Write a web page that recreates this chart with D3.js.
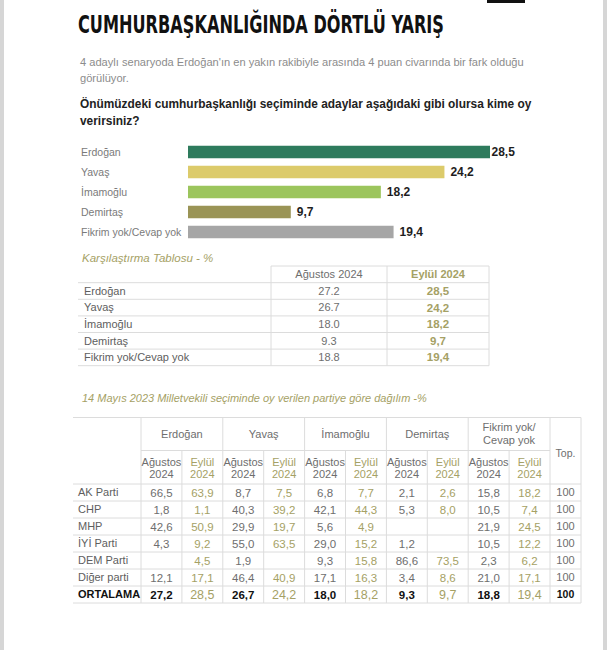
<!DOCTYPE html>
<html lang="tr">
<head>
  <meta charset="UTF-8">
  <title>Cumhurbaşkanlığında Dörtlü Yarış</title>
  <script src="https://d3js.org/d3.v7.min.js"></script>
  <style>
    body { margin: 0; background: #fff; }
    svg { display: block; font-family: "Liberation Sans", Arial, sans-serif; }
  </style>
</head>
<body>
  <div id="chart"></div>

  <script>
    // bar chart / comparison table
    const candidates = ["Erdoğan", "Yavaş", "İmamoğlu", "Demirtaş", "Fikrim yok/Cevap yok"];
    const eylul = [28.5, 24.2, 18.2, 9.7, 19.4];
    const agustos = [27.2, 26.7, 18.0, 9.3, 18.8];
    const periods = ["Ağustos 2024", "Eylül 2024"];

    // party breakdown table
    const parties = ["AK Parti", "CHP", "MHP", "İYİ Parti", "DEM Parti", "Diğer parti", "ORTALAMA"];
    const groups = ["Erdoğan", "Yavaş", "İmamoğlu", "Demirtaş", "Fikrim yok/Cevap yok"];
    const erdoganAug = [66.5, 1.8, 42.6, 4.3, null, 12.1, 27.2];
    const erdoganSep = [63.9, 1.1, 50.9, 9.2, 4.5, 17.1, 28.5];
    const yavasAug = [8.7, 40.3, 29.9, 55.0, 1.9, 46.4, 26.7];
    const yavasSep = [7.5, 39.2, 19.7, 63.5, null, 40.9, 24.2];
    const imamogluAug = [6.8, 42.1, 5.6, 29.0, 9.3, 17.1, 18.0];
    const imamogluSep = [7.7, 44.3, 4.9, 15.2, 15.8, 16.3, 18.2];
    const demirtasAug = [2.1, 5.3, null, 1.2, 86.6, 3.4, 9.3];
    const demirtasSep = [2.6, 8.0, null, null, 73.5, 8.6, 9.7];
    const fikrimAug = [15.8, 10.5, 21.9, 10.5, 2.3, 21.0, 18.8];
    const fikrimSep = [18.2, 7.4, 24.5, 12.2, 6.2, 17.1, 19.4];
    const toplam = [100, 100, 100, 100, 100, 100, 100];

    const barColors = ["#2e7b5d", "#dccb6b", "#9cc55d", "#9a9456", "#a6a6a6"];
    const olive = "#a5a165";
    const grey = "#6e6e6e";
    const lineColor = "#dcdcdc";

    const width = 607, height = 650;
    const fmtComma = v => d3.format(".1f")(v).replace(".", ",");

    const svg = d3.select("#chart").append("svg")
      .attr("width", width)
      .attr("height", height);

    svg.append("rect").attr("width", width).attr("height", height).attr("fill", "#fff");
    // page edges
    svg.append("rect").attr("x", 0).attr("width", 4).attr("height", height).attr("fill", "#d6d6d6");
    svg.append("rect").attr("x", 603).attr("width", 4).attr("height", height).attr("fill", "#d6d6d6");
    svg.append("rect").attr("x", 487).attr("width", 38).attr("height", 3).attr("fill", "#111");

    // heading
    svg.append("text")
      .attr("x", 78).attr("y", 33)
      .attr("textLength", 366)
      .attr("lengthAdjust", "spacingAndGlyphs")
      .style("font-family", "'Liberation Sans Narrow', 'DejaVu Sans Condensed', sans-serif")
      .style("font-weight", "bold")
      .style("font-size", "25px")
      .attr("fill", "#111")
      .text("CUMHURBAŞKANLIĞINDA DÖRTLÜ YARIŞ");

    const sub = ["4 adaylı senaryoda Erdoğan'ın en yakın rakibiyle arasında 4 puan civarında bir fark olduğu", "görülüyor."];
    svg.append("g").selectAll("text").data(sub).join("text")
      .attr("x", 80).attr("y", (d, i) => 66 + i * 15.5)
      .style("font-size", "11.1px")
      .attr("fill", "#8c8c8c")
      .text(d => d);

    const question = ["Önümüzdeki cumhurbaşkanlığı seçiminde adaylar aşağıdaki gibi olursa kime oy", "verirsiniz?"];
    svg.append("g").selectAll("text").data(question).join("text")
      .attr("x", 80).attr("y", (d, i) => 108 + i * 16.5)
      .style("font-size", "11.9px")
      .style("font-weight", "bold")
      .attr("fill", "#222")
      .text(d => d);

    // horizontal bar chart
    const x = d3.scaleLinear().domain([0, 28.5]).range([188, 490]);
    const y = d3.scaleBand().domain(candidates).range([142, 242])
      .paddingInner(0.375).paddingOuter(0.1875);

    const bars = svg.append("g");
    bars.selectAll("rect").data(candidates).join("rect")
      .attr("x", x(0))
      .attr("y", d => y(d))
      .attr("width", (d, i) => x(eylul[i]) - x(0))
      .attr("height", y.bandwidth())
      .attr("fill", (d, i) => barColors[i]);

    bars.selectAll(".lbl").data(candidates).join("text")
      .attr("class", "lbl")
      .attr("x", 81)
      .attr("y", d => y(d) + y.bandwidth() / 2)
      .attr("dy", "0.35em")
      .style("font-size", "10.5px")
      .attr("fill", "#7a7a7a")
      .text(d => d);

    bars.selectAll(".val").data(candidates).join("text")
      .attr("class", "val")
      .attr("x", (d, i) => x(eylul[i]) + (i === 0 ? 1.5 : 6))
      .attr("y", d => y(d) + y.bandwidth() / 2)
      .attr("dy", "0.36em")
      .style("font-size", "12px")
      .style("font-weight", "bold")
      .attr("fill", "#1e1e1e")
      .text((d, i) => fmtComma(eylul[i]));

    // comparison table
    svg.append("text")
      .attr("x", 82).attr("y", 262)
      .style("font-size", "11.5px")
      .style("font-style", "italic")
      .attr("fill", olive)
      .text("Karşılaştırma Tablosu - %");

    const ct = svg.append("g");
    const cx = d3.scaleOrdinal().domain(["label"].concat(periods)).range([78, 271, 387]);
    const colEnd = 489;
    const cy = d3.scaleBand().domain(candidates).range([282.7, 365.7]);
    const cHeadTop = 266;

    ct.append("line").attr("x1", cx(periods[0])).attr("x2", colEnd)
      .attr("y1", cHeadTop).attr("y2", cHeadTop).attr("stroke", lineColor);
    ct.selectAll(".hl").data(candidates).join("line")
      .attr("class", "hl")
      .attr("x1", cx("label")).attr("x2", colEnd)
      .attr("y1", d => cy(d)).attr("y2", d => cy(d))
      .attr("stroke", lineColor);
    ct.append("line").attr("x1", cx("label")).attr("x2", colEnd)
      .attr("y1", cy.range()[1]).attr("y2", cy.range()[1]).attr("stroke", lineColor);
    ct.selectAll(".vl").data(periods.concat(["end"])).join("line")
      .attr("class", "vl")
      .attr("x1", d => d === "end" ? colEnd : cx(d))
      .attr("x2", d => d === "end" ? colEnd : cx(d))
      .attr("y1", cHeadTop).attr("y2", cy.range()[1])
      .attr("stroke", lineColor);

    const colMid = [(cx(periods[0]) + cx(periods[1])) / 2, (cx(periods[1]) + colEnd) / 2];
    ct.selectAll(".ph").data(periods).join("text")
      .attr("class", "ph")
      .attr("x", (d, i) => colMid[i])
      .attr("y", (cHeadTop + cy.range()[0]) / 2)
      .attr("dy", "0.35em")
      .attr("text-anchor", "middle")
      .style("font-size", "11px")
      .style("font-weight", (d, i) => i ? "bold" : "normal")
      .attr("fill", (d, i) => i ? olive : grey)
      .text(d => d);

    const crow = ct.selectAll(".cr").data(candidates).join("g")
      .attr("class", "cr")
      .attr("transform", d => `translate(0,${cy(d) + cy.bandwidth() / 2})`);
    crow.append("text")
      .attr("x", cx("label") + 6).attr("dy", "0.35em")
      .style("font-size", "11px").attr("fill", "#5e5e5e")
      .text(d => d);
    crow.append("text")
      .attr("x", colMid[0]).attr("dy", "0.35em").attr("text-anchor", "middle")
      .style("font-size", "11px").attr("fill", grey)
      .text((d, i) => d3.format(".1f")(agustos[i]));
    crow.append("text")
      .attr("x", colMid[1]).attr("dy", "0.35em").attr("text-anchor", "middle")
      .style("font-size", "11.5px").style("font-weight", "bold").attr("fill", olive)
      .text((d, i) => fmtComma(eylul[i]));

    // party breakdown table
    svg.append("text")
      .attr("x", 82).attr("y", 402)
      .style("font-size", "11px")
      .style("font-style", "italic")
      .attr("fill", olive)
      .text("14 Mayıs 2023 Milletvekili seçiminde oy verilen partiye göre dağılım -%");

    const columns = [
      { g: 0, p: 0, v: erdoganAug }, { g: 0, p: 1, v: erdoganSep },
      { g: 1, p: 0, v: yavasAug }, { g: 1, p: 1, v: yavasSep },
      { g: 2, p: 0, v: imamogluAug }, { g: 2, p: 1, v: imamogluSep },
      { g: 3, p: 0, v: demirtasAug }, { g: 3, p: 1, v: demirtasSep },
      { g: 4, p: 0, v: fikrimAug }, { g: 4, p: 1, v: fikrimSep }
    ];
    columns.forEach((c, i) => c.key = i);

    const tLeft = 73, tRight = 581, topX = 550;
    const tx = d3.scaleBand().domain(columns.map(c => c.key)).range([141, topX]);
    const ty = d3.scaleBand().domain(parties).range([484, 603]);
    const tTop = 417.5, tMid = 450.5;

    const bt = svg.append("g");
    // horizontal rules
    bt.append("line").attr("x1", tLeft).attr("x2", tRight).attr("y1", tTop).attr("y2", tTop).attr("stroke", lineColor);
    bt.append("line").attr("x1", tx(0)).attr("x2", topX).attr("y1", tMid).attr("y2", tMid).attr("stroke", lineColor);
    bt.selectAll(".rh").data(parties).join("line")
      .attr("class", "rh")
      .attr("x1", tLeft).attr("x2", tRight)
      .attr("y1", d => ty(d)).attr("y2", d => ty(d))
      .attr("stroke", lineColor);
    bt.append("line").attr("x1", tLeft).attr("x2", tRight)
      .attr("y1", ty.range()[1]).attr("y2", ty.range()[1]).attr("stroke", lineColor);
    // vertical rules
    bt.selectAll(".vr").data(columns).join("line")
      .attr("class", "vr")
      .attr("x1", d => tx(d.key)).attr("x2", d => tx(d.key))
      .attr("y1", d => d.p === 0 ? tTop : tMid).attr("y2", ty.range()[1])
      .attr("stroke", lineColor);
    bt.selectAll(".ve").data([topX, tRight]).join("line")
      .attr("class", "ve")
      .attr("x1", d => d).attr("x2", d => d)
      .attr("y1", tTop).attr("y2", ty.range()[1])
      .attr("stroke", lineColor);

    // group headers
    const gh = bt.selectAll(".gh").data(groups).join("text")
      .attr("class", "gh")
      .attr("x", (d, i) => tx(i * 2) + tx.bandwidth())
      .attr("y", (tTop + tMid) / 2)
      .attr("text-anchor", "middle")
      .style("font-size", "11px")
      .attr("fill", grey);
    gh.each(function(d) {
      const parts = d === "Fikrim yok/Cevap yok" ? ["Fikrim yok/", "Cevap yok"] : [d];
      d3.select(this).selectAll("tspan").data(parts).join("tspan")
        .attr("x", d3.select(this).attr("x"))
        .attr("dy", (p, j) => parts.length === 1 ? "0.35em" : (j === 0 ? "-0.25em" : "1.2em"))
        .text(p => p);
    });
    bt.append("text")
      .attr("x", (topX + tRight) / 2).attr("y", (tTop + ty.range()[0]) / 2 + 3)
      .attr("dy", "0.35em").attr("text-anchor", "middle")
      .style("font-size", "10.5px").attr("fill", grey)
      .text("Top.");

    // period sub-headers
    const sh = bt.selectAll(".sh").data(columns).join("text")
      .attr("class", "sh")
      .attr("text-anchor", "middle")
      .style("font-size", "11px")
      .attr("fill", d => d.p ? olive : grey);
    sh.selectAll("tspan").data(d => periods[d.p].split(" ").map(t => ({ t, c: d }))).join("tspan")
      .attr("x", d => tx(d.c.key) + tx.bandwidth() / 2)
      .attr("y", (d, j) => 465.5 + j * 12.5)
      .text(d => d.t);

    // row labels
    bt.selectAll(".pl").data(parties).join("text")
      .attr("class", "pl")
      .attr("x", 78)
      .attr("y", d => ty(d) + ty.bandwidth() / 2)
      .attr("dy", "0.35em")
      .style("font-size", "11px")
      .style("font-weight", d => d === "ORTALAMA" ? "bold" : "normal")
      .attr("fill", d => d === "ORTALAMA" ? "#111" : "#5e5e5e")
      .text(d => d);

    // cells
    const cells = [];
    columns.forEach(c => c.v.forEach((v, r) => { if (v != null) cells.push({ c, r, v }); }));
    bt.selectAll(".cell").data(cells).join("text")
      .attr("class", "cell")
      .attr("x", d => tx(d.c.key) + tx.bandwidth() / 2)
      .attr("y", d => ty(parties[d.r]) + ty.bandwidth() / 2)
      .attr("dy", "0.36em")
      .attr("text-anchor", "middle")
      .style("font-size", d => d.r === 6 && d.c.p ? "12.5px" : "11.5px")
      .style("font-weight", d => d.r === 6 && !d.c.p ? "bold" : "normal")
      .attr("fill", d => d.c.p ? olive : (d.r === 6 ? "#111" : grey))
      .text(d => fmtComma(d.v));

    bt.selectAll(".tot").data(toplam).join("text")
      .attr("class", "tot")
      .attr("x", (topX + tRight) / 2)
      .attr("y", (d, r) => ty(parties[r]) + ty.bandwidth() / 2)
      .attr("dy", "0.35em")
      .attr("text-anchor", "middle")
      .style("font-size", (d, r) => r === 6 ? "10.5px" : "11px")
      .style("font-weight", (d, r) => r === 6 ? "bold" : "normal")
      .attr("fill", (d, r) => r === 6 ? "#111" : grey)
      .text(d => d);
  </script>
</body>
</html>
